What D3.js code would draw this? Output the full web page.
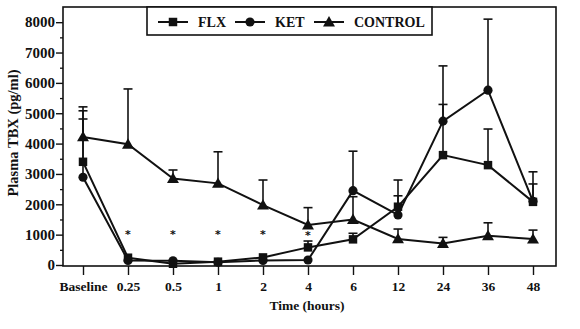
<!DOCTYPE html>
<html>
<head>
<meta charset="utf-8">
<script src="https://cdn.jsdelivr.net/npm/d3@7"></script>
<style>
  html, body { margin: 0; padding: 0; background: #fff; }
  svg text { font-family: "Liberation Serif", "Times New Roman", serif; fill: #111; }
</style>
</head>
<body>
<div id="chart"></div>
<script>
// data
const categories = ["Baseline", "0.25", "0.5", "1", "2", "4", "6", "12", "24", "36", "48"];
const flx = [3400, 240, 40, 110, 250, 580, 845, 1920, 3620, 3290, 2080];
const flxErr = [5080, null, null, null, null, 790, 1045, 2280, 5290, 4480, 2670];
const ket = [2890, 150, 140, 90, 150, 165, 2450, 1650, 4740, 5760, 2100];
const ketErr = [4810, null, null, null, null, null, 3750, 2800, 6560, 8100, 3070];
const control = [4220, 3980, 2850, 2690, 1975, 1320, 1500, 860, 710, 965, 855];
const controlErr = [5210, 5800, 3130, 3730, 2800, 1890, 2250, 1185, 910, 1390, 1150];
const starred = ["0.25", "0.5", "1", "2", "4"];
const yTicks = [0, 1000, 2000, 3000, 4000, 5000, 6000, 7000, 8000];
const yMinor = [500, 1500, 2500, 3500, 4500, 5500, 6500, 7500];

const width = 580, height = 329;
const plotLeft = 63, plotRight = 556, plotTop = 7, plotBottom = 266;

const svg = d3.select("#chart").append("svg")
    .attr("width", width)
    .attr("height", height);

const x = d3.scalePoint().domain(categories).range([83, 533]);
const y = d3.scaleLinear().domain([0, 8500]).range([265, plotTop]);

// frame
svg.append("rect")
    .attr("x", plotLeft).attr("y", plotTop)
    .attr("width", plotRight - plotLeft).attr("height", plotBottom - plotTop)
    .attr("fill", "none").attr("stroke", "#111").attr("stroke-width", 1.6);

// y axis
const yAxis = svg.append("g")
    .attr("transform", `translate(${plotLeft},0)`)
    .call(d3.axisLeft(y).tickValues(yTicks).tickFormat(d3.format("d"))
        .tickSize(7).tickSizeOuter(0).tickPadding(1));
yAxis.select(".domain").remove();
yAxis.selectAll("line").attr("stroke", "#111").attr("stroke-width", 1.4);
yAxis.selectAll("text")
    .attr("font-size", 15).attr("font-weight", "bold").attr("fill", "#111")
    .style("font-family", "'Liberation Serif', serif");

const yMinorAxis = svg.append("g")
    .attr("transform", `translate(${plotLeft},0)`)
    .call(d3.axisLeft(y).tickValues(yMinor).tickSize(3).tickFormat(""));
yMinorAxis.select(".domain").remove();
yMinorAxis.selectAll("line").attr("stroke", "#111").attr("stroke-width", 1.3);

// x axis
const xAxis = svg.append("g")
    .attr("transform", `translate(0,${plotBottom})`)
    .call(d3.axisBottom(x).tickSize(9).tickPadding(6));
xAxis.select(".domain").remove();
xAxis.selectAll("line").attr("stroke", "#111").attr("stroke-width", 1.4);
xAxis.selectAll("text")
    .attr("font-size", 13.5).attr("font-weight", "bold").attr("fill", "#111")
    .style("font-family", "'Liberation Serif', serif");

svg.append("text")
    .attr("x", 307).attr("y", 310)
    .attr("text-anchor", "middle")
    .attr("font-size", 13.5).attr("font-weight", "bold")
    .text("Time (hours)");

svg.append("text")
    .attr("transform", "translate(18,133) rotate(-90)")
    .attr("text-anchor", "middle")
    .attr("font-size", 14.5).attr("font-weight", "bold")
    .text("Plasma TBX (pg/ml)");

const series = [
    { name: "FLX", values: flx, err: flxErr, shape: d3.symbolSquare, size: 72 },
    { name: "KET", values: ket, err: ketErr, shape: d3.symbolCircle, size: 66 },
    { name: "CONTROL", values: control, err: controlErr, shape: d3.symbolTriangle, size: 62 }
];

const line = d3.line()
    .x((d, i) => x(categories[i]))
    .y(d => y(d));

// error bars (upper only)
series.forEach(s => {
    const g = svg.append("g").attr("stroke", "#111").attr("stroke-width", 1.6);
    const rows = s.err.map((e, i) => ({ c: categories[i], v: s.values[i], e })).filter(d => d.e != null);
    g.selectAll("line.bar").data(rows).join("line").attr("class", "bar")
        .attr("x1", d => x(d.c)).attr("x2", d => x(d.c))
        .attr("y1", d => y(d.v)).attr("y2", d => y(d.e));
    g.selectAll("line.cap").data(rows).join("line").attr("class", "cap")
        .attr("x1", d => x(d.c) - 4.5).attr("x2", d => x(d.c) + 4.5)
        .attr("y1", d => y(d.e)).attr("y2", d => y(d.e));
});

// lines
series.forEach(s => {
    svg.append("path")
        .datum(s.values)
        .attr("fill", "none")
        .attr("stroke", "#111")
        .attr("stroke-width", 2)
        .attr("d", line);
});

// markers
series.forEach(s => {
    svg.append("g")
        .selectAll("path")
        .data(s.values)
        .join("path")
        .attr("transform", (d, i) => `translate(${x(categories[i])},${y(d) + (s.shape === d3.symbolTriangle ? 1 : 0)})`)
        .attr("d", d3.symbol().type(s.shape).size(s.size))
        .attr("fill", "#111");
});

// significance stars
svg.append("g")
    .selectAll("text")
    .data(starred)
    .join("text")
    .attr("x", d => x(d))
    .attr("y", d => y(1040) + (d === "4" ? 6 : 5))
    .attr("text-anchor", "middle")
    .attr("font-size", 11)
    .attr("font-weight", "bold")
    .attr("fill", "#111")
    .style("font-family", "'DejaVu Sans', sans-serif")
    .text("*");

// legend
const legend = svg.append("g");
legend.append("rect")
    .attr("x", 147).attr("y", plotTop)
    .attr("width", 285).attr("height", 28)
    .attr("fill", "#fff").attr("stroke", "#111").attr("stroke-width", 1.6);

const legendX = [158, 235, 314];
series.forEach((s, i) => {
    const lx = legendX[i];
    legend.append("line")
        .attr("x1", lx).attr("x2", lx + 30)
        .attr("y1", 22).attr("y2", 22)
        .attr("stroke", "#111").attr("stroke-width", 2);
    legend.append("path")
        .attr("transform", `translate(${lx + 15},${s.shape === d3.symbolTriangle ? 23 : 22})`)
        .attr("d", d3.symbol().type(s.shape).size(s.size))
        .attr("fill", "#111");
    legend.append("text")
        .attr("x", lx + 40).attr("y", 27)
        .attr("font-size", 14).attr("font-weight", "bold")
        .text(s.name);
});
</script>
</body>
</html>
